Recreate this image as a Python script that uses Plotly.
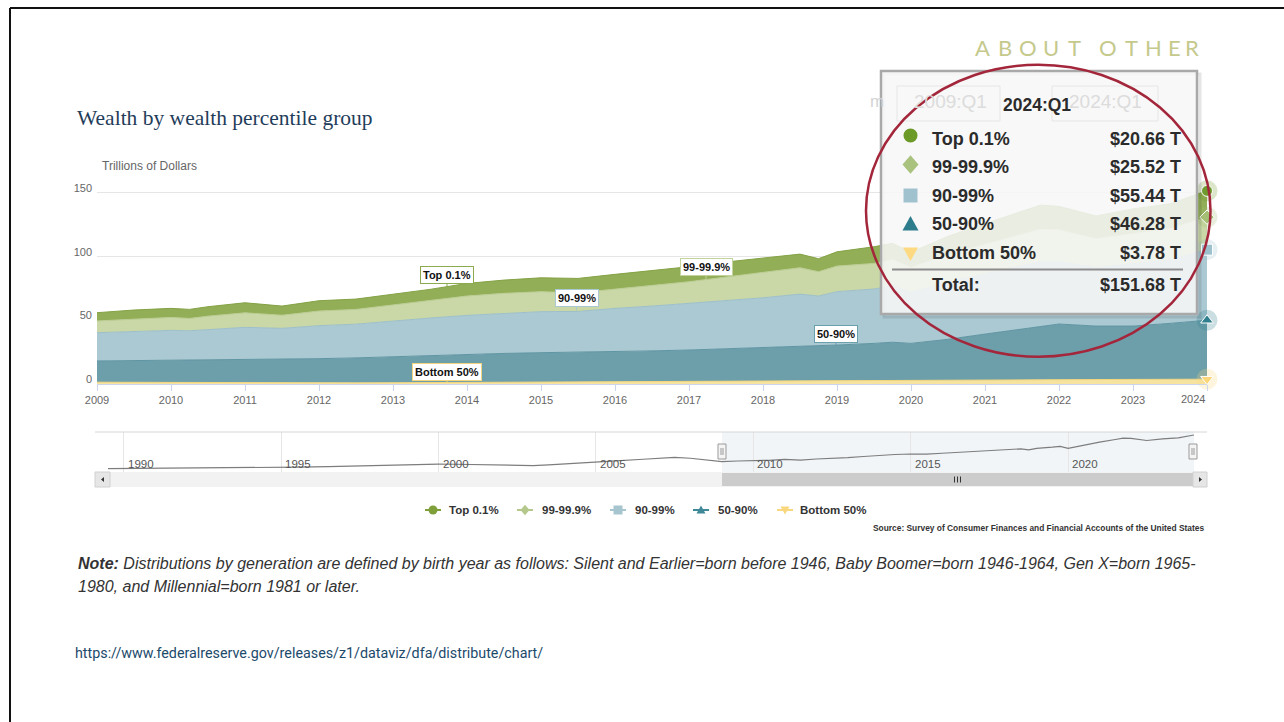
import numpy as np
import plotly.graph_objects as go

W, H = 1284, 722

# ---- Household wealth by percentile group, trillions of dollars ----
quarters = ["2009:Q1", "2009:Q3", "2010:Q1", "2010:Q2", "2010:Q3", "2011:Q1", "2011:Q3",
            "2012:Q1", "2012:Q3", "2013:Q1", "2013:Q3", "2014:Q1", "2014:Q3", "2015:Q1",
            "2015:Q3", "2016:Q1", "2016:Q3", "2017:Q1", "2017:Q3", "2018:Q1", "2018:Q3",
            "2018:Q4", "2019:Q1", "2019:Q3", "2019:Q4", "2020:Q1", "2020:Q3", "2021:Q1",
            "2021:Q3", "2021:Q4", "2022:Q1", "2022:Q3", "2023:Q1", "2023:Q3", "2024:Q1"]
bottom_50 = [1.4, 1.3, 1.0, 1.0, 0.9, 0.8, 0.8, 0.8, 0.9, 1.0, 1.1, 1.3, 1.4, 1.5, 1.5,
             1.6, 1.7, 1.8, 1.9, 2.0, 2.1, 2.1, 2.2, 2.3, 2.3, 2.4, 2.5, 2.9, 3.2, 3.3,
             3.4, 3.5, 3.6, 3.7, 3.78]
pct_50_90 = [16.7, 17.0, 17.8, 17.8, 18.0, 18.6, 18.6, 19.1, 19.6, 20.4, 21.3, 22.2, 22.6,
             23.1, 23.4, 23.8, 24.3, 24.9, 25.8, 26.8, 27.5, 27.7, 28.4, 29.6, 30.5, 29.5,
             32.6, 36.3, 39.7, 41.7, 43.7, 42.0, 41.9, 43.9, 46.28]
pct_90_99 = [22.2, 22.7, 23.3, 23.0, 23.9, 25.1, 24.3, 25.9, 26.5, 28.1, 29.4, 30.4, 31.4,
             32.2, 32.1, 34.0, 35.2, 36.6, 37.8, 38.9, 41.0, 39.3, 41.9, 42.7, 44.2, 40.1,
             44.9, 47.3, 49.6, 51.0, 48.9, 46.0, 49.0, 49.9, 55.44]
pct_99_999 = [9.2, 10.0, 10.2, 9.7, 10.5, 11.4, 10.3, 11.5, 11.6, 12.6, 13.6, 15.2, 15.8,
              15.7, 14.6, 15.2, 16.5, 17.0, 18.5, 19.7, 20.7, 19.1, 20.1, 20.1, 20.5, 19.5,
              21.5, 23.0, 25.0, 25.5, 25.0, 22.5, 23.5, 24.5, 25.52]
top_01 = [6.5, 7.1, 7.1, 7.1, 7.4, 7.9, 7.2, 8.1, 8.1, 8.3, 8.9, 9.9, 10.4, 10.9, 11.3,
          11.5, 11.2, 11.8, 11.8, 11.3, 10.7, 10.2, 11.2, 13.1, 13.0, 12.0, 14.5, 16.5,
          18.0, 19.0, 18.5, 18.0, 19.5, 19.5, 20.66]

# Navigator: total wealth before the selected window
nav_quarters_early = ["1989:Q3", "1990:Q3", "1991:Q3", "1992:Q3", "1993:Q3", "1994:Q3",
                      "1995:Q3", "1996:Q3", "1997:Q3", "1998:Q3", "1999:Q3", "2000:Q1",
                      "2000:Q3", "2001:Q3", "2002:Q3", "2003:Q1", "2003:Q3", "2004:Q3",
                      "2005:Q3", "2006:Q3", "2007:Q3", "2008:Q1", "2008:Q3"]
nav_total_early = [31.0, 31.4, 32.2, 33.0, 33.8, 34.4, 36.0, 38.0, 41.0, 43.5, 46.5, 47.0,
                   46.5, 43.5, 41.5, 41.5, 44.5, 50.0, 57.5, 64.5, 71.0, 68.0, 63.0]

main_years = list(range(2009, 2025))
nav_years = [1990, 1995, 2000, 2005, 2010, 2015, 2020]

series_names = ["Bottom 50%", "50-90%", "90-99%", "99-99.9%", "Top 0.1%"]
series_values = [bottom_50, pct_50_90, pct_90_99, pct_99_999, top_01]
fill_colors = ["#f6e3a0", "#6d9fab", "#abc9d2", "#c9d8a6", "#92ae57"]
line_colors = ["#f3d67e", "#5f95a2", "#9dbfca", "#bccd93", "#83a244"]
marker_colors = ["#fcd77a", "#2f7f8f", "#9cc0cc", "#a4bf74", "#6f9a2e"]
marker_symbols = ["triangle-down", "triangle-up", "square", "diamond", "circle"]


def qnum(q):
    yr, qq = q.split(":Q")
    return int(yr) + (int(qq) - 1) / 4.0


def X(px):
    return px / W


def Y(py):
    return 1 - py / H


xq = [qnum(q) for q in quarters]
total = np.sum(np.array(series_values), axis=0)

fig = go.Figure()

# stacked areas
for name, vals, fc, lc in zip(series_names, series_values, fill_colors, line_colors):
    fig.add_trace(go.Scatter(x=xq, y=vals, name=name, stackgroup="wealth", mode="lines",
                             line=dict(color=lc, width=1), fillcolor=fc,
                             hoverinfo="skip", showlegend=False))

# hover-state markers on the latest quarter
last_vals = [v[-1] for v in series_values]
last_cum = np.cumsum(last_vals)
fig.add_trace(go.Scatter(x=[xq[-1]] * 5, y=last_cum, mode="markers", cliponaxis=False,
                         marker=dict(size=21, color=marker_colors, opacity=0.25, symbol="circle"),
                         hoverinfo="skip", showlegend=False))
fig.add_trace(go.Scatter(x=[xq[-1]] * 5, y=last_cum, mode="markers", cliponaxis=False,
                         marker=dict(size=11, color=marker_colors, symbol=marker_symbols,
                                     line=dict(color="white", width=1)),
                         hoverinfo="skip", showlegend=False))

# navigator line
nav_x = [qnum(q) for q in nav_quarters_early] + xq
nav_y = list(nav_total_early) + list(total)
fig.add_trace(go.Scatter(x=nav_x, y=nav_y, xaxis="x2", yaxis="y2", mode="lines",
                         line=dict(color="#7d7d7d", width=1.2), hoverinfo="skip",
                         showlegend=False))

shapes = []
ann = []


def rect(x0, y0, x1, y1, fill, lc=None, lw=0, layer="above"):
    shapes.append(dict(type="rect", xref="paper", yref="paper", x0=X(x0), x1=X(x1),
                       y0=Y(y1), y1=Y(y0), fillcolor=fill, layer=layer,
                       line=dict(color=lc or "rgba(0,0,0,0)", width=lw)))


def seg(x0, y0, x1, y1, color, width, layer="above"):
    shapes.append(dict(type="line", xref="paper", yref="paper", x0=X(x0), x1=X(x1),
                       y0=Y(y0), y1=Y(y1), layer=layer, line=dict(color=color, width=width)))


def sym(kind, cx, cy, r, color):
    if kind == "circle":
        shapes.append(dict(type="circle", xref="paper", yref="paper", x0=X(cx - r), x1=X(cx + r),
                           y0=Y(cy + r), y1=Y(cy - r), fillcolor=color, line=dict(width=0)))
        return
    if kind == "square":
        pts = [(cx - r, cy - r), (cx + r, cy - r), (cx + r, cy + r), (cx - r, cy + r)]
    elif kind == "diamond":
        pts = [(cx, cy - r * 1.15), (cx + r, cy), (cx, cy + r * 1.15), (cx - r, cy)]
    elif kind == "triangle-up":
        pts = [(cx, cy - r), (cx + r, cy + r * 0.8), (cx - r, cy + r * 0.8)]
    else:
        pts = [(cx - r, cy - r * 0.8), (cx + r, cy - r * 0.8), (cx, cy + r)]
    path = "M " + " L ".join(f"{X(a):.5f},{Y(b):.5f}" for a, b in pts) + " Z"
    shapes.append(dict(type="path", xref="paper", yref="paper", path=path,
                       fillcolor=color, line=dict(width=0)))


def text(px, py, s, size, color, family="Liberation Sans, Arial, sans-serif",
         xanchor="left", weight="normal", style="normal"):
    ann.append(dict(x=X(px), y=Y(py), xref="paper", yref="paper", text=s, showarrow=False,
                    xanchor=xanchor, yanchor="middle",
                    font=dict(size=size, color=color, family=family, weight=weight,
                              style=style)))


# slide frame
seg(10, 8, 1284, 8, "#111111", 2)
seg(10, 8, 10, 722, "#111111", 2)

# heading text
letters = [("A", 982.5), ("B", 1005), ("O", 1028), ("U", 1051), ("T", 1074.5),
           ("O", 1108), ("T", 1131), ("H", 1153), ("E", 1174), ("R", 1192)]
for ch, cx in letters:
    text(cx, 47, ch, 22, "#c5c98c", family="Lato, sans-serif", xanchor="center")

text(75, 118, "Wealth by wealth percentile group", 21.5, "#1f3d5a",
     family="Liberation Serif, Georgia, serif")
text(100, 166, "Trillions of Dollars", 12, "#666666")
text(1193, 399, "2024", 11, "#666666", xanchor="center")

# navigator year labels, placed right of their grid lines
for yr in nav_years:
    ann.append(dict(x=yr, y=Y(464), xref="x2", yref="paper", text=str(yr), showarrow=False,
                    xanchor="left", yanchor="middle", xshift=2,
                    font=dict(size=11.5, color="#555555",
                              family="Liberation Sans, Arial, sans-serif")))


# series labels inside the chart
def px_to_x(px):
    return 2009 + (px - 97) / 74.0


def py_to_y(py):
    return (384 - py) / (191.0 / 150.0)


labels = [("Top 0.1%", 447, 286, -11, "#8caa4f"),
          ("Bottom 50%", 447, 383, -11, "#f0d680"),
          ("90-99%", 576.5, 310.5, -12, "#a9c8d2"),
          ("99-99.9%", 706, 279, -12, "#c2d39c"),
          ("50-90%", 836, 345, -11, "#6a9fac")]
for s, ax_px, ay_px, off, col in labels:
    ann.append(dict(x=px_to_x(ax_px), y=py_to_y(ay_px), xref="x", yref="y", text=s,
                    showarrow=True, arrowhead=0, arrowwidth=1, arrowcolor=col, ax=0, ay=off,
                    bgcolor="white", bordercolor=col, borderwidth=1, borderpad=2,
                    font=dict(size=11, color="#111111", weight="bold",
                              family="Liberation Sans, Arial, sans-serif")))

# navigator frame, mask, handles and scrollbar
rect(722, 432, 1194, 472, "rgba(214,226,234,0.35)", layer="below")
seg(95, 432, 1207, 432, "#d6d6d6", 1)
rect(95, 472, 1207, 487, "#f2f2f2")
rect(722, 473, 1193, 486, "#cccccc")
rect(95, 472, 110, 487, "#e6e6e6", "#d0d0d0", 1)
rect(1193, 472, 1207, 487, "#e6e6e6", "#d0d0d0", 1)
for gx in (954.5, 957.5, 960.5):
    seg(gx, 476.5, gx, 482.5, "#333333", 1)
shapes.append(dict(type="path", xref="paper", yref="paper",
                   path=f"M {X(104):.5f},{Y(477):.5f} L {X(104):.5f},{Y(482):.5f} L {X(101):.5f},{Y(479.5):.5f} Z",
                   fillcolor="#333333", line=dict(width=0)))
shapes.append(dict(type="path", xref="paper", yref="paper",
                   path=f"M {X(1199):.5f},{Y(477):.5f} L {X(1199):.5f},{Y(482):.5f} L {X(1202):.5f},{Y(479.5):.5f} Z",
                   fillcolor="#333333", line=dict(width=0)))
for hx in (722, 1193):
    rect(hx - 4, 444, hx + 4, 459, "#f4f4f4", "#9a9a9a", 1)
    seg(hx - 1, 448, hx - 1, 455, "#9a9a9a", 1)
    seg(hx + 1, 448, hx + 1, 455, "#9a9a9a", 1)

# legend row
legend_items = [("circle", 433, 447, "Top 0.1%", "#7f9f3a"),
                ("diamond", 525, 540, "99-99.9%", "#b3c88a"),
                ("square", 618, 633, "90-99%", "#a6c5cf"),
                ("triangle-up", 701, 716, "50-90%", "#3f8898"),
                ("triangle-down", 785, 798, "Bottom 50%", "#f9d77e")]
for kind, cx, tx, s, col in legend_items:
    seg(cx - 8, 510, cx + 8, 510, col, 2)
    sym(kind, cx, 510, 4.5, col)
    text(tx, 510, s, 11.5, "#333333", weight="bold")

text(1206, 528, "Source: Survey of Consumer Finances and Financial Accounts of the United States",
     8.4, "#333333", xanchor="right", weight="bold")

text(76, 563, "<b>Note:</b> Distributions by generation are defined by birth year as follows: "
     "Silent and Earlier=born before 1946, Baby Boomer=born 1946-1964, Gen X=born 1965-",
     16, "#333333", style="italic")
text(76, 586, "1980, and Millennial=born 1981 or later.", 16, "#333333", style="italic")
text(73, 653, "https://www.federalreserve.gov/releases/z1/dataviz/dfa/distribute/chart/",
     14.3, "#1c4a6b", family="Roboto, sans-serif")

# tooltip for the latest quarter
text(886, 101, "m", 17, "#d4d4d4", xanchor="right")
rect(884, 74, 1200, 317, "rgba(0,0,0,0)", "rgba(0,0,0,0.10)", 3)
rect(881, 71, 1197, 314, "rgba(247,247,247,0.87)", "#a9a9a9", 2.5)
rect(897, 86, 1000, 121, "rgba(0,0,0,0)", "#e6e6e6", 1)
rect(1052, 86, 1158, 121, "rgba(0,0,0,0)", "#e6e6e6", 1)
text(950, 102, "2009:Q1", 19, "#dcdcdc", xanchor="center")
text(1105, 102, "2024:Q1", 19, "#dcdcdc", xanchor="center")
text(1037, 105, quarters[-1], 17.5, "#2b2b2b", xanchor="center", weight="bold")

row_y = [139, 167, 196, 224, 253]
tooltip_order = [4, 3, 2, 1, 0]
icon_colors = ["#fdd981", "#2d7c8c", "#a0c2cf", "#a9c27d", "#6b9a26"]
icon_y = {"circle": 135.5, "diamond": 164.5, "square": 195.5, "triangle-up": 224,
          "triangle-down": 253.5}
icon_r = {"circle": 7, "diamond": 8, "square": 7, "triangle-up": 8, "triangle-down": 7.5}
for ry, idx in zip(row_y, tooltip_order):
    kind = marker_symbols[idx]
    sym(kind, 910.5, icon_y[kind], icon_r[kind], icon_colors[idx])
    text(930, ry, series_names[idx], 18, "#2b2b2b", weight="bold")
    text(1183, ry, f"${series_values[idx][-1]:.2f} T", 18, "#2b2b2b", xanchor="right",
         weight="bold")
seg(892, 269.5, 1183, 269.5, "#8c8c8c", 2)
text(930, 285, "Total:", 18, "#2b2b2b", weight="bold")
text(1183, 285, f"${total[-1]:.2f} T", 18, "#2b2b2b", xanchor="right", weight="bold")

# highlight ring
shapes.append(dict(type="circle", xref="paper", yref="paper", x0=X(866), x1=X(1210.5),
                   y0=Y(356.7), y1=Y(64.7), line=dict(color="#a3263b", width=2.5),
                   fillcolor="rgba(0,0,0,0)"))

fig.update_layout(
    width=W, height=H, margin=dict(l=0, r=0, t=0, b=0, autoexpand=False),
    paper_bgcolor="white", plot_bgcolor="rgba(0,0,0,0)",
    showlegend=False, hovermode=False,
    font=dict(family="Liberation Sans, Arial, sans-serif"),
    xaxis=dict(domain=[X(97), X(1207)], range=[2009, 2024], tickvals=main_years,
               ticktext=[str(y) for y in main_years[:-1]] + [""], ticks="outside",
               ticklen=6, tickcolor="#ccd6eb", showline=True, linecolor="#ccd6eb",
               showgrid=False, zeroline=False, tickfont=dict(size=11, color="#666666"),
               anchor="y", fixedrange=True, automargin=False),
    yaxis=dict(domain=[Y(384), Y(384 - 160 * 191.0 / 150.0)], range=[0, 160],
               tickvals=[0, 50, 100, 150], showgrid=True, gridcolor="#e6e6e6",
               zeroline=False, showline=False, tickfont=dict(size=11, color="#666666"),
               ticklabelshift=-5, ticklabelstandoff=4, anchor="x", fixedrange=True,
               automargin=False),
    xaxis2=dict(domain=[X(108), X(1194)], range=[1989.5, 2024.0], tickvals=nav_years,
                showticklabels=False, ticks="", showgrid=True, gridcolor="#e6e6e6",
                showline=False, zeroline=False, anchor="y2", fixedrange=True,
                automargin=False),
    yaxis2=dict(domain=[Y(472), Y(432)], range=[18.6, 162.5], visible=False, anchor="x2",
                fixedrange=True, automargin=False),
    shapes=shapes, annotations=ann,
)

fig.write_html("out.html",
               post_script="document.body.style.margin='0';document.body.style.overflow='hidden';")
